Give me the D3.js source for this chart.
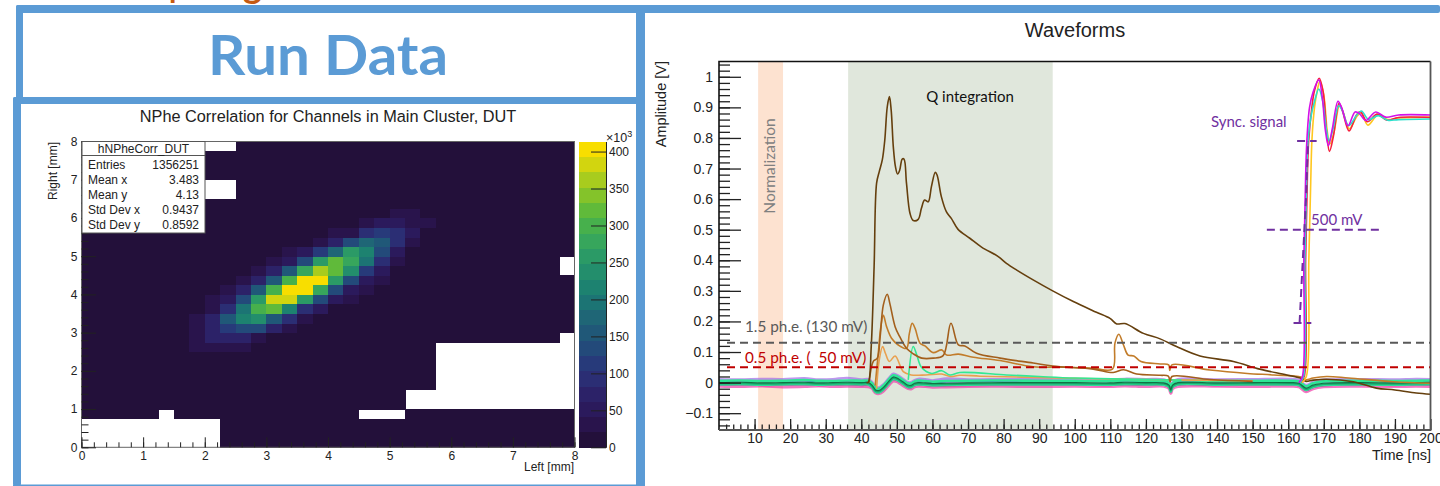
<!DOCTYPE html>
<meta charset="utf-8">
<title>Run Data</title>
<style>
body { margin: 0; background: #fff; }
svg { display: block; }
text { font-family: "Liberation Sans", sans-serif; fill: #222; }
.note { font-family: Lato, sans-serif; white-space: pre; }
.axis path { stroke: none; }
.axis line { stroke: #222; }
.axis text { fill: #222; }
.heavy line { stroke-width: 1.3; }
</style>
<body>
<svg width="1440" height="486"></svg>
<script src="https://d3js.org/d3.v7.min.js"></script>
<script>
// ---- left histogram: NPhe correlation, counts in thousands, 0.25 mm bins ----
var binSize = 0.25;
var gridBins = 32;
var floorCount = 6;

// [row, first column, counts...]
var clusterRows = [
  [10, 7, [25, 25, 25, 25]],
  [11, 6, [15, 35, 65, 65, 65, 35]],
  [12, 7, [25, 70, 110, 140, 130, 75, 25]],
  [13, 7, [25, 70, 150, 210, 230, 165, 85, 25]],
  [14, 8, [30, 90, 190, 300, 320, 225, 95, 50]],
  [15, 8, [25, 45, 140, 260, 385, 385, 260, 135, 50, 25]],
  [16, 9, [30, 75, 150, 310, 410, 410, 270, 140, 50, 30]],
  [17, 10, [25, 80, 165, 310, 410, 410, 265, 130, 60, 30]],
  [18, 11, [25, 80, 160, 270, 370, 330, 230, 110, 60]],
  [19, 12, [25, 60, 140, 260, 330, 270, 190, 90, 35]],
  [20, 13, [25, 45, 110, 180, 250, 210, 140, 55]],
  [21, 15, [25, 80, 130, 180, 160, 90, 30]],
  [22, 16, [25, 35, 90, 110, 85, 55]],
  [23, 18, [25, 50, 55, 30, 25]],
  [24, 20, [25, 30]]
];

// empty bins stay white: [row, first column, last column]
var emptyBins = [
  [0, 0, 8], [1, 0, 8], [2, 0, 8], [3, 5, 5], [3, 18, 20],
  [4, 21, 31], [5, 21, 31], [6, 23, 31], [7, 23, 31], [8, 23, 31],
  [9, 23, 31], [10, 23, 31], [11, 31, 31], [18, 31, 31], [19, 31, 31],
  [26, 8, 9], [27, 8, 9], [31, 8, 9]
];

var histTicks = [0, 1, 2, 3, 4, 5, 6, 7, 8];
var colorTicks = [0, 50, 100, 150, 200, 250, 300, 350, 400];
var colorMax = 413.6;
var palette = ["#23103a", "#29144c", "#2b1a5c", "#2c2268", "#2b2e74", "#273a7a",
  "#234a7a", "#205878", "#1f6676", "#1c7474", "#1d8270", "#238e6c", "#2b9a66",
  "#37a65c", "#47b04c", "#60ba3a", "#84c32a", "#a8cc1e", "#d2d50f", "#f8de00"];

var statLabels = ["Entries", "Mean x", "Mean y", "Std Dev x", "Std Dev y"];
var statValues = ["1356251", "3.483", "4.13", "0.9437", "0.8592"];

// ---- right plot: waveforms, [time ns, amplitude V] ----
var normBand = [11, 18];
var chargeBand = [36.3, 93.8];
var ampTicks = [-0.1, 0, 0.1, 0.2, 0.3, 0.4, 0.5, 0.6, 0.7, 0.8, 0.9, 1];
var timeTicks = [10, 20, 30, 40, 50, 60, 70, 80, 90, 100, 110, 120, 130, 140, 150, 160, 170, 180, 190, 200];

var traceMain = [[41.5, 0], [42, 0.002], [42.8, 0.12], [43.6, 0.379], [44.3, 0.652], [45.05, 0.69], [45.9, 0.728],
  [46.6, 0.793], [47.3, 0.902], [47.9, 0.935], [48.4, 0.891], [49, 0.771], [49.6, 0.706], [50.2, 0.682],
  [50.8, 0.695], [51.5, 0.731], [52, 0.731], [52.7, 0.652], [53.7, 0.553], [54.6, 0.53], [56, 0.534],
  [56.9, 0.57], [57.8, 0.597], [58.8, 0.591], [59.7, 0.64], [60.8, 0.688], [61.3, 0.679], [62.5, 0.608],
  [63.9, 0.559], [65.3, 0.537], [67.2, 0.501], [70.5, 0.472], [73.8, 0.443], [78.5, 0.412], [80.8, 0.39],
  [83.7, 0.368], [88.3, 0.336], [93.8, 0.3], [99.6, 0.265], [106.1, 0.23], [109.9, 0.21], [111.8, 0.192],
  [114.1, 0.193], [119.3, 0.161], [124, 0.143], [128.6, 0.118], [135.2, 0.087], [144.6, 0.069], [152, 0.044],
  [159.6, 0.025], [163.8, 0.013], [165, 0.004], [167, 0.008], [170.8, 0.011], [178.3, 0.003], [184.8, -0.018],
  [190, -0.024], [196, -0.034], [200, -0.038]];

var traceLate = [[42.2, 0], [43.4, 0.07], [44.5, 0.08], [45.3, 0.15], [46.2, 0.254], [47.3, 0.289], [48, 0.26],
  [49.5, 0.183], [50.8, 0.15], [52.7, 0.112], [54.6, 0.094], [57, 0.08], [60.2, 0.08], [63, 0.088], [65.2, 0.194],
  [67.3, 0.123], [69.1, 0.12], [72.4, 0.096], [79, 0.08], [88.3, 0.064], [93.8, 0.054], [105.2, 0.044],
  [110.8, 0.033], [113.7, 0.042], [117.4, 0.028], [124, 0.024], [126.3, 0.021], [126.8, 0.002], [127.3, 0.02],
  [138, 0.01], [150, 0.004]];

var traceMid = [[43.9, -0.01], [44.8, 0.1], [45.5, 0.183], [46.2, 0.22], [47.1, 0.183], [48.5, 0.145], [50.4, 0.123],
  [52.7, 0.112], [53.5, 0.16], [54.3, 0.194], [55.1, 0.178], [56.5, 0.129], [57.9, 0.12], [60.2, 0.098],
  [62.6, 0.107], [64, 0.09], [67.3, 0.093], [71.5, 0.083], [79, 0.072], [88.3, 0.052], [98, 0.05], [105, 0.047],
  [110.6, 0.044], [111.3, 0.129], [112.4, 0.158], [113.7, 0.123], [115, 0.09], [116.6, 0.087], [118.6, 0.069],
  [124, 0.061], [126.4, 0.058], [126.7, 0.04], [127.3, 0.058], [138, 0.041], [148.5, 0.03], [156, 0.025],
  [163.6, 0.018], [165, 0.009], [167, 0.015], [170.8, 0.02], [177, 0.015], [189.6, 0.003], [200, -0.002]];

var traceSmall = [[44.3, -0.02], [45.05, 0.074], [46, 0.118], [46.8, 0.095], [47.9, 0.069], [49.5, 0.087], [51.8, 0.036],
  [54, 0.025], [58.2, 0.025], [62.6, 0.028], [65, 0.02], [67.7, 0.024], [73.4, 0.021], [85, 0.018], [95, 0.015],
  [120, 0.01], [150, 0.006]];

var traceGreen = [[53.2, 0.009], [54.6, 0.118], [55.6, 0.09], [56.9, 0.05], [59.8, 0.03], [62.6, 0.039], [64.9, 0.025],
  [67.7, 0.033], [80.8, 0.025], [90, 0.02], [100, 0.015], [130, 0.008]];

var syncGold = [[163.9, 0], [165.1, 0.02], [165.8, 0.4], [166.3, 0.64], [166.7, 0.8], [167.4, 0.9], [168.1, 0.95], [168.9, 0.985],
  [170, 0.94], [171, 0.82], [171.7, 0.78], [172.9, 0.82], [174.4, 0.905], [175.4, 0.885], [177.2, 0.83], [179.3, 0.87],
  [180.5, 0.882], [182.4, 0.842], [185.2, 0.875], [188, 0.86], [191, 0.865], [200, 0.868]];
var syncRed = [[163.4, 0], [164.5, 0.02], [164.9, 0.4], [165.3, 0.62], [165.7, 0.78], [166.6, 0.895], [167.4, 0.955], [168.7, 0.995],
  [169.8, 0.953], [170.8, 0.82], [171.6, 0.756], [172.7, 0.805], [174.3, 0.913], [175.2, 0.891], [177.1, 0.823], [179.2, 0.875],
  [180.3, 0.886], [182.2, 0.853], [185, 0.878], [187.8, 0.858], [191, 0.867], [200, 0.867]];
var syncCyan = [[163.3, 0], [164.3, 0.02], [164.7, 0.4], [165.1, 0.62], [165.5, 0.78], [166.4, 0.87], [167.4, 0.92], [168.6, 0.96],
  [169.7, 0.92], [170.7, 0.83], [171.5, 0.79], [172.6, 0.83], [174.2, 0.905], [175.2, 0.89], [177, 0.84], [179.3, 0.875],
  [180.6, 0.888], [182.6, 0.86], [185.3, 0.873], [188, 0.858], [191, 0.86], [200, 0.862]];
var syncMagenta = [[163, 0], [164, 0.02], [164.4, 0.4], [164.8, 0.62], [165.2, 0.78], [166, 0.9], [167, 0.95], [168.6, 0.99],
  [169.6, 0.93], [170.4, 0.83], [171.3, 0.775], [172.4, 0.83], [174, 0.92], [175, 0.9], [176.8, 0.84], [178.8, 0.885],
  [180, 0.88], [181.8, 0.857], [184.6, 0.885], [187.4, 0.868], [191, 0.875], [200, 0.875]];

// baseline channels sharing one time axis, amplitude in mV
var baseTime = [0, 6, 12, 18, 24, 28, 32, 36, 40, 42,
  43, 44, 45, 46, 47, 48, 49, 50, 51, 52,
  53, 54, 55, 56, 58, 60, 64, 70, 80, 90,
  100, 110, 114, 120, 125, 126.5, 127, 127.5, 129, 140,
  150, 160, 163, 165, 167, 170, 180, 190, 196, 200];
var basePink = [-12, -13, -11, -14, -13, -11, -13, -12, -13, -14,
  -19, -34, -36, -30, -18, -5, 5, 3, -4, -12,
  -19, -21, -14, -12, -13, -15, -14, -13, -12, -13,
  -12, -13, -11, -13, -12, -19, -36, -20, -13, -12,
  -13, -12, -14, -30, -20, -14, -12, -13, -12, -13];
var baseMagenta = [-8, -7, -9, -8, -7, -9, -8, -7, -9, -8,
  -16, -31, -33, -26, -14, 0, 9, 7, 0, -8,
  -16, -17, -10, -8, -9, -11, -10, -9, -8, -8,
  -8, -9, -7, -8, -8, -16, -32, -16, -8, -9,
  -8, -8, -10, -26, -16, -10, -8, -9, -8, -8];
var basePurple = [11, 10, 12, 11, 14, 10, 11, 15, 10, 11,
  2, -14, -16, -8, 4, 18, 29, 25, 18, 10,
  2, 1, 8, 12, 11, 7, 13, 10, 11, 12,
  11, 10, 12, 11, 10, 2, -14, 2, 11, 10,
  11, 12, 9, -8, 2, 9, 11, 10, 12, 11];
var baseBlue = [5, 6, 4, 5, 6, 4, 5, 6, 5, 5,
  -3, -19, -21, -13, -1, 12, 22, 19, 12, 4,
  -3, -4, 3, 5, 4, 2, 3, 4, 5, 5,
  5, 4, 6, 5, 4, -3, -19, -3, 5, 4,
  5, 5, 3, -13, -3, 3, 5, 4, 5, 6];
var baseBright = [6, 7, 5, 6, 8, 6, 5, 7, 6, 6,
  -2, -17, -20, -12, 0, 14, 24, 21, 14, 6,
  -2, -3, 4, 7, 5, 3, 5, 6, 7, 6,
  6, 5, 7, 6, 5, -2, -18, -2, 6, 5,
  6, 6, 4, -12, -2, 4, 6, 5, 6, 7];
var baseMint = [-6, -5, -7, -6, -5, -7, -6, -5, -6, -6,
  -14, -30, -32, -24, -12, 2, 12, 9, 2, -6,
  -14, -15, -8, -6, -7, -9, -8, -7, -6, -6,
  -6, -7, -5, -6, -7, -14, -30, -14, -6, -7,
  -6, -6, -8, -24, -14, -8, -6, -7, -6, -5];
var baseTeal = [-3, -2, -4, -3, -2, -4, -3, -2, -3, -3,
  -11, -27, -29, -21, -9, 5, 15, 12, 5, -3,
  -11, -12, -5, -3, -4, -6, -5, -4, -3, -3,
  -3, -4, -2, -3, -4, -11, -27, -11, -3, -4,
  -3, -3, -5, -21, -11, -5, -3, -4, -3, -2];
var baseDark = [0, 1, -1, 0, 1, -1, 0, 1, 0, 0,
  -8, -24, -26, -18, -6, 8, 18, 15, 8, 0,
  -8, -9, -2, 0, -1, -3, -2, -1, 0, 0,
  0, -1, 1, 0, -1, -8, -24, -8, 0, -1,
  0, 0, -2, -18, -8, -2, 0, -1, 0, 1];

// threshold and sync annotations in plot units
var thresholdHigh = 0.13;
var thresholdLow = 0.05;
var syncLevels = [[0.79, 162.5, 168], [0.5, 154, 185.5], [0.195, 161.5, 166.5]];
var syncRiseLine = [[163.2, 0.195], [164.1, 0.4], [165, 0.6], [165.6, 0.79]];

var svg = d3.select("svg");
var blue = "#5b9bd5";

//Orange heading above the slide is cut off by the top edge, only the descenders show
svg.append("text").attr("x", 169).attr("y", -2).attr("font-size", 30).attr("font-weight", 700)
    .style("fill", "#c55a11").attr("class", "note").text("p");
svg.append("text").attr("x", 243).attr("y", -2).attr("font-size", 36).attr("font-weight", 700)
    .style("fill", "#c55a11").attr("class", "note").text("g");

//Left histogram
var xL = d3.scaleLinear().domain([0, 8]).range([81.5, 574.5]);
var yL = d3.scaleLinear().domain([0, 8]).range([447.3, 141.5]);
var color = d3.scaleQuantize().domain([0, colorMax]).range(palette);

var hist = svg.append("g").attr("shape-rendering", "crispEdges");

var cells = [];
d3.range(gridBins).forEach(function(row) {
  d3.range(gridBins).forEach(function(col) {
    cells.push({row: row, col: col, value: floorCount});
  });
});
clusterRows.forEach(function(r) {
  r[2].forEach(function(v, i) { cells[r[0] * gridBins + r[1] + i].value = v; });
});
emptyBins.forEach(function(r) {
  d3.range(r[1], r[2] + 1).forEach(function(col) { cells[r[0] * gridBins + col].value = 0; });
});

hist.selectAll("rect")
  .data(cells.filter(function(d) { return d.value > 0; }))
  .enter().append("rect")
    .attr("x", function(d) { return xL(d.col * binSize); })
    .attr("y", function(d) { return yL((d.row + 1) * binSize); })
    .attr("width", xL(binSize) - xL(0) + 0.5)
    .attr("height", yL(0) - yL(binSize) + 0.5)
    .attr("fill", function(d) { return color(d.value); });

svg.append("rect")
    .attr("x", xL(0)).attr("y", yL(8))
    .attr("width", xL(8) - xL(0)).attr("height", yL(0) - yL(8))
    .attr("fill", "none").attr("stroke", "#666");

svg.append("g").attr("class", "axis").attr("transform", "translate(0," + yL(0) + ")")
    .call(d3.axisBottom(xL).tickValues(d3.range(0, 8.01, 0.2)).tickSize(-5).tickFormat("").tickSizeOuter(0));
svg.append("g").attr("class", "axis").attr("transform", "translate(0," + yL(0) + ")")
    .call(d3.axisBottom(xL).tickValues(histTicks).tickSize(-10).tickPadding(4).tickSizeOuter(0))
    .selectAll("text").attr("font-size", 12).attr("font-family", "Liberation Sans");
svg.append("g").attr("class", "axis").attr("transform", "translate(" + xL(0) + ",0)")
    .call(d3.axisLeft(yL).tickValues(d3.range(0, 8.01, 0.2)).tickSize(-7).tickFormat("").tickSizeOuter(0));
svg.append("g").attr("class", "axis").attr("transform", "translate(" + xL(0) + ",0)")
    .call(d3.axisLeft(yL).tickValues(histTicks).tickSize(-14.5).tickPadding(4).tickSizeOuter(0))
    .selectAll("text").attr("font-size", 12).attr("font-family", "Liberation Sans");

svg.append("text").attr("x", 328).attr("y", 122).attr("text-anchor", "middle")
    .attr("font-size", 16.3).text("NPhe Correlation for Channels in Main Cluster, DUT");
svg.append("text").attr("x", 574).attr("y", 471).attr("text-anchor", "end")
    .attr("font-size", 12).text("Left [mm]");
svg.append("text").attr("transform", "translate(57,142) rotate(-90)").attr("text-anchor", "end")
    .attr("font-size", 12).text("Right [mm]");

//Stats box
var stats = svg.append("g");
stats.append("rect").attr("x", 82).attr("y", 141.5).attr("width", 123).attr("height", 91.5)
    .attr("fill", "#fff").attr("stroke", "#555");
stats.append("line").attr("x1", 82).attr("x2", 205).attr("y1", 155.5).attr("y2", 155.5).attr("stroke", "#555");
stats.append("text").attr("x", 143.5).attr("y", 153).attr("text-anchor", "middle")
    .attr("font-size", 12).text("hNPheCorr_DUT");
statLabels.forEach(function(s, i) {
  var rowY = [169, 184, 199, 214, 229][i];
  stats.append("text").attr("x", 88).attr("y", rowY).attr("font-size", 12).text(s);
  stats.append("text").attr("x", 199).attr("y", rowY).attr("text-anchor", "end")
      .attr("font-size", 12).text(statValues[i]);
});

//Color bar
var colorY = d3.scaleLinear().domain([0, colorMax]).range([447.3, 141.5]);
svg.append("g").attr("shape-rendering", "crispEdges").selectAll("rect")
  .data(palette)
  .enter().append("rect")
    .attr("x", 578.5).attr("width", 27.5)
    .attr("y", function(d) { return colorY(color.invertExtent(d)[1]); })
    .attr("height", function(d) { return colorY(color.invertExtent(d)[0]) - colorY(color.invertExtent(d)[1]) + 0.4; })
    .attr("fill", function(d) { return d; });
var colorAxis = svg.append("g").attr("class", "axis").attr("transform", "translate(606,0)")
    .call(d3.axisRight(colorY).tickValues(colorTicks).tickSize(-15).tickPadding(3).tickSizeOuter(0));
colorAxis.selectAll("text").attr("font-size", 12).attr("font-family", "Liberation Sans");
colorAxis.select("path").style("stroke", "#222");
var exponent = svg.append("text").attr("x", 606).attr("y", 142).attr("font-size", 12.5).text("\u00d710");
exponent.append("tspan").attr("dy", -5).attr("font-size", 9).text("3");

//Waveform plot
var xR = d3.scaleLinear().domain([0, 200]).range([719, 1430.5]);
var yR = d3.scaleLinear().domain([-0.155, 1.05]).range([430, 61.5]);

svg.append("rect").attr("x", xR(normBand[0])).attr("y", yR(1.05))
    .attr("width", xR(normBand[1]) - xR(normBand[0])).attr("height", yR(-0.155) - yR(1.05))
    .attr("fill", "#fde2d0");
svg.append("rect").attr("x", xR(chargeBand[0])).attr("y", yR(1.05))
    .attr("width", xR(chargeBand[1]) - xR(chargeBand[0])).attr("height", yR(-0.155) - yR(1.05))
    .attr("fill", "#e0e7dc");

var curve = d3.line()
    .x(function(d) { return xR(d[0]); })
    .y(function(d) { return yR(d[1]); })
    .curve(d3.curveCatmullRom.alpha(0.5));

var baseline = [
  {values: basePink, stroke: "#f03ca8", width: 3, opacity: 0.7},
  {values: baseMagenta, stroke: "#e0209a", width: 1.6, opacity: 1},
  {values: basePurple, stroke: "#a46ae8", width: 2.6, opacity: 0.7},
  {values: baseBlue, stroke: "#5a1fd0", width: 1.6, opacity: 1},
  {values: baseBright, stroke: "#2ee695", width: 2.6, opacity: 1},
  {values: baseMint, stroke: "#2fdc98", width: 2.6, opacity: 1},
  {values: baseTeal, stroke: "#17ad6c", width: 2, opacity: 1},
  {values: baseDark, stroke: "#127046", width: 1.1, opacity: 1}
];

var traces = svg.append("g").attr("fill", "none").attr("stroke-linejoin", "round");

baseline.forEach(function(b) {
  traces.append("path")
      .datum(d3.zip(baseTime, b.values.map(function(v) { return v / 1000; })))
      .attr("d", curve).attr("stroke", b.stroke).attr("stroke-width", b.width)
      .attr("stroke-opacity", b.opacity);
});

[
  [traceSmall, "#e9a050"], [traceGreen, "#33e893"], [traceMid, "#c27c2a"],
  [traceLate, "#a35f1c"], [traceMain, "#653f0d"],
  [syncGold, "#ffc71f"], [syncRed, "#f5203c"], [syncCyan, "#28e0cc"], [syncMagenta, "#d410e8"]
].forEach(function(t) {
  traces.append("path").datum(t[0]).attr("d", curve)
      .attr("stroke", t[1]).attr("stroke-width", 1.6);
});

//Threshold lines
svg.append("line").attr("x1", 727).attr("x2", xR(200)).attr("y1", yR(thresholdHigh)).attr("y2", yR(thresholdHigh))
    .attr("stroke", "#595959").attr("stroke-width", 2).attr("stroke-dasharray", "8 5");
svg.append("line").attr("x1", 727).attr("x2", xR(200)).attr("y1", yR(thresholdLow)).attr("y2", yR(thresholdLow))
    .attr("stroke", "#c00000").attr("stroke-width", 2).attr("stroke-dasharray", "8 5");

//Sync dashes
syncLevels.forEach(function(s) {
  svg.append("line").attr("x1", xR(s[1])).attr("x2", xR(s[2])).attr("y1", yR(s[0])).attr("y2", yR(s[0]))
      .attr("stroke", "#7030a0").attr("stroke-width", 2).attr("stroke-dasharray", "8 5");
});
svg.append("path").datum(syncRiseLine)
    .attr("d", d3.line().x(function(d) { return xR(d[0]); }).y(function(d) { return yR(d[1]); }))
    .attr("fill", "none").attr("stroke", "#7030a0").attr("stroke-width", 2).attr("stroke-dasharray", "8 5");

//Notes
function note(x, y, size, fill, label, anchor) {
  return svg.append("text").attr("class", "note").attr("x", x).attr("y", y)
      .attr("font-size", size).attr("text-anchor", anchor || "start").style("fill", fill).text(label);
}
note(745, 332, 15.3, "#595959", "1.5 ph.e. (130 mV)");
note(745, 363, 15.3, "#c00000", "0.5 ph.e. (  50 mV)");
note(970, 102, 15, "#111", "Q integration", "middle");
note(1211, 127, 15, "#7030a0", "Sync. signal");
note(1311, 225, 15, "#7030a0", "500 mV");
svg.append("text").attr("class", "note").attr("transform", "translate(775,166) rotate(-90)")
    .attr("text-anchor", "middle").attr("font-size", 15.5).style("fill", "#808080").text("Normalization");

//Waveform axes
svg.append("g").attr("class", "axis heavy").attr("transform", "translate(0," + yR(-0.155) + ")")
    .call(d3.axisBottom(xR).tickValues(d3.range(2, 200, 2)).tickSize(-5.5).tickFormat("").tickSizeOuter(0));
svg.append("g").attr("class", "axis heavy").attr("transform", "translate(0," + yR(-0.155) + ")")
    .call(d3.axisBottom(xR).tickValues(timeTicks).tickSize(-11).tickPadding(3).tickSizeOuter(0))
    .selectAll("text").attr("font-size", 14).attr("font-family", "Liberation Sans");
svg.append("g").attr("class", "axis heavy").attr("transform", "translate(" + xR(0) + ",0)")
    .call(d3.axisLeft(yR).tickValues(d3.range(-0.14, 1.05, 0.02)).tickSize(-11).tickFormat("").tickSizeOuter(0));
svg.append("g").attr("class", "axis heavy").attr("transform", "translate(" + xR(0) + ",0)")
    .call(d3.axisLeft(yR).tickValues(ampTicks).tickFormat(d3.format("~g")).tickSize(-22).tickPadding(6).tickSizeOuter(0))
    .selectAll("text").attr("font-size", 14).attr("font-family", "Liberation Sans");

svg.append("path")
    .attr("d", "M" + xR(0) + "," + yR(-0.155) + "V" + yR(1.05) + "H" + xR(200))
    .attr("fill", "none").attr("stroke", "#111").attr("stroke-width", 1.6);
svg.append("path")
    .attr("d", "M" + xR(0) + "," + yR(-0.155) + "H" + xR(200) + "V" + yR(1.05))
    .attr("fill", "none").attr("stroke", "#555").attr("stroke-width", 1.8);

svg.append("text").attr("x", 1075).attr("y", 37).attr("text-anchor", "middle")
    .attr("font-size", 20).text("Waveforms");
svg.append("text").attr("x", 1431).attr("y", 460).attr("text-anchor", "end")
    .attr("font-size", 14.5).text("Time [ns]");
svg.append("text").attr("transform", "translate(666,61) rotate(-90)").attr("text-anchor", "end")
    .attr("font-size", 14.5).text("Amplitude [V]");

//Blue slide panels
var panels = svg.append("g").attr("fill", blue);
panels.append("rect").attr("x", 16).attr("y", 5).attr("width", 1424).attr("height", 8).attr("rx", 2);
panels.append("rect").attr("x", 16).attr("y", 5).attr("width", 7).attr("height", 95).attr("rx", 2);
panels.append("rect").attr("x", 13).attr("y", 97).attr("width", 632).attr("height", 7).attr("rx", 2);
panels.append("rect").attr("x", 13).attr("y", 97).attr("width", 8).attr("height", 389).attr("rx", 2);
panels.append("rect").attr("x", 636).attr("y", 5).attr("width", 9).attr("height", 481);
panels.append("rect").attr("x", 13).attr("y", 484.5).attr("width", 632).attr("height", 1.5);

svg.append("text").attr("class", "note").attr("x", 328).attr("y", 75).attr("text-anchor", "middle")
    .attr("font-size", 55).attr("font-weight", 700).attr("textLength", 240).attr("lengthAdjust", "spacingAndGlyphs")
    .style("fill", blue).text("Run Data");
</script>
</body>
